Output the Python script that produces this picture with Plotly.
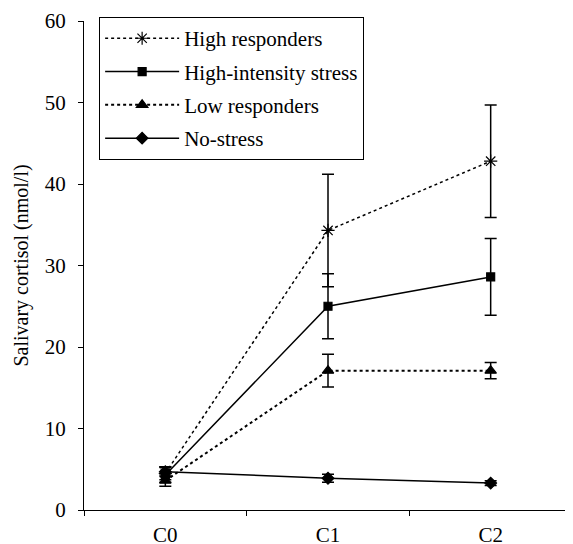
import plotly.graph_objects as go

categories = ["C0", "C1", "C2"]

series_names = ["High responders", "High-intensity stress", "Low responders", "No-stress"]
high_resp = [4.5, 34.3, 42.8]
high_resp_err = [0.8, 6.9, 6.9]
high_int = [4.3, 25.0, 28.6]
high_int_err = [0.9, 4.0, 4.7]
low_resp = [3.6, 17.1, 17.1]
low_resp_err = [0.7, 2.0, 1.0]
no_stress = [4.7, 3.9, 3.3]
no_stress_err = [0.6, 0.5, 0.3]

y_ticks = [0, 10, 20, 30, 40, 50, 60]

FONT = "Liberation Serif, Times New Roman, serif"

styles = [
    dict(dash="dot", width=1.5, symbol="asterisk-open", size=11),
    dict(dash="solid", width=1.5, symbol="square", size=8),
    dict(dash="dot", width=2, symbol="triangle-up", size=10),
    dict(dash="solid", width=1.5, symbol="diamond", size=9),
]
values = [high_resp, high_int, low_resp, no_stress]
errors = [high_resp_err, high_int_err, low_resp_err, no_stress_err]

fig = go.Figure()
for name, vals, errs, st in zip(series_names, values, errors, styles):
    fig.add_trace(go.Scatter(
        x=categories, y=vals, name=name, mode="lines+markers",
        line=dict(color="black", width=st["width"], dash=st["dash"]),
        marker=dict(symbol=st["symbol"], size=st["size"], color="black",
                    line=dict(color="black", width=1.2)),
        error_y=dict(type="data", array=errs, visible=True, color="black",
                     thickness=1.5, width=6),
        legendgroup=name,
    ))

fig.update_layout(
    width=573, height=544,
    margin=dict(l=76, r=9, t=10, b=42),
    paper_bgcolor="white", plot_bgcolor="white",
    font=dict(family=FONT, color="black", size=21),
    showlegend=True,
    legend=dict(
        x=0.031, y=1.008, xanchor="left", yanchor="top",
        bordercolor="black", borderwidth=1, bgcolor="white",
        font=dict(family=FONT, size=21),
        traceorder="grouped", tracegroupgap=3, itemwidth=74,
    ),
    xaxis=dict(
        type="category", range=[-0.5, 2.5], showgrid=False,
        showline=True, linecolor="black", linewidth=1,
        ticks="outside", tickson="boundaries", ticklen=5, tickcolor="black",
        ticklabelstandoff=6,
        tickfont=dict(family=FONT, size=21), zeroline=False, automargin=False,
    ),
    yaxis=dict(
        range=[0, 60], tickvals=y_ticks, showgrid=False, zeroline=False,
        showline=True, linecolor="black", linewidth=1,
        ticks="outside", ticklen=5, tickcolor="black", ticklabelstandoff=8,
        tickfont=dict(family=FONT, size=21), automargin=False,
        title=dict(text="Salivary cortisol (nmol/l)", font=dict(family=FONT, size=20), standoff=10),
    ),
)

fig.write_html("out.html")
